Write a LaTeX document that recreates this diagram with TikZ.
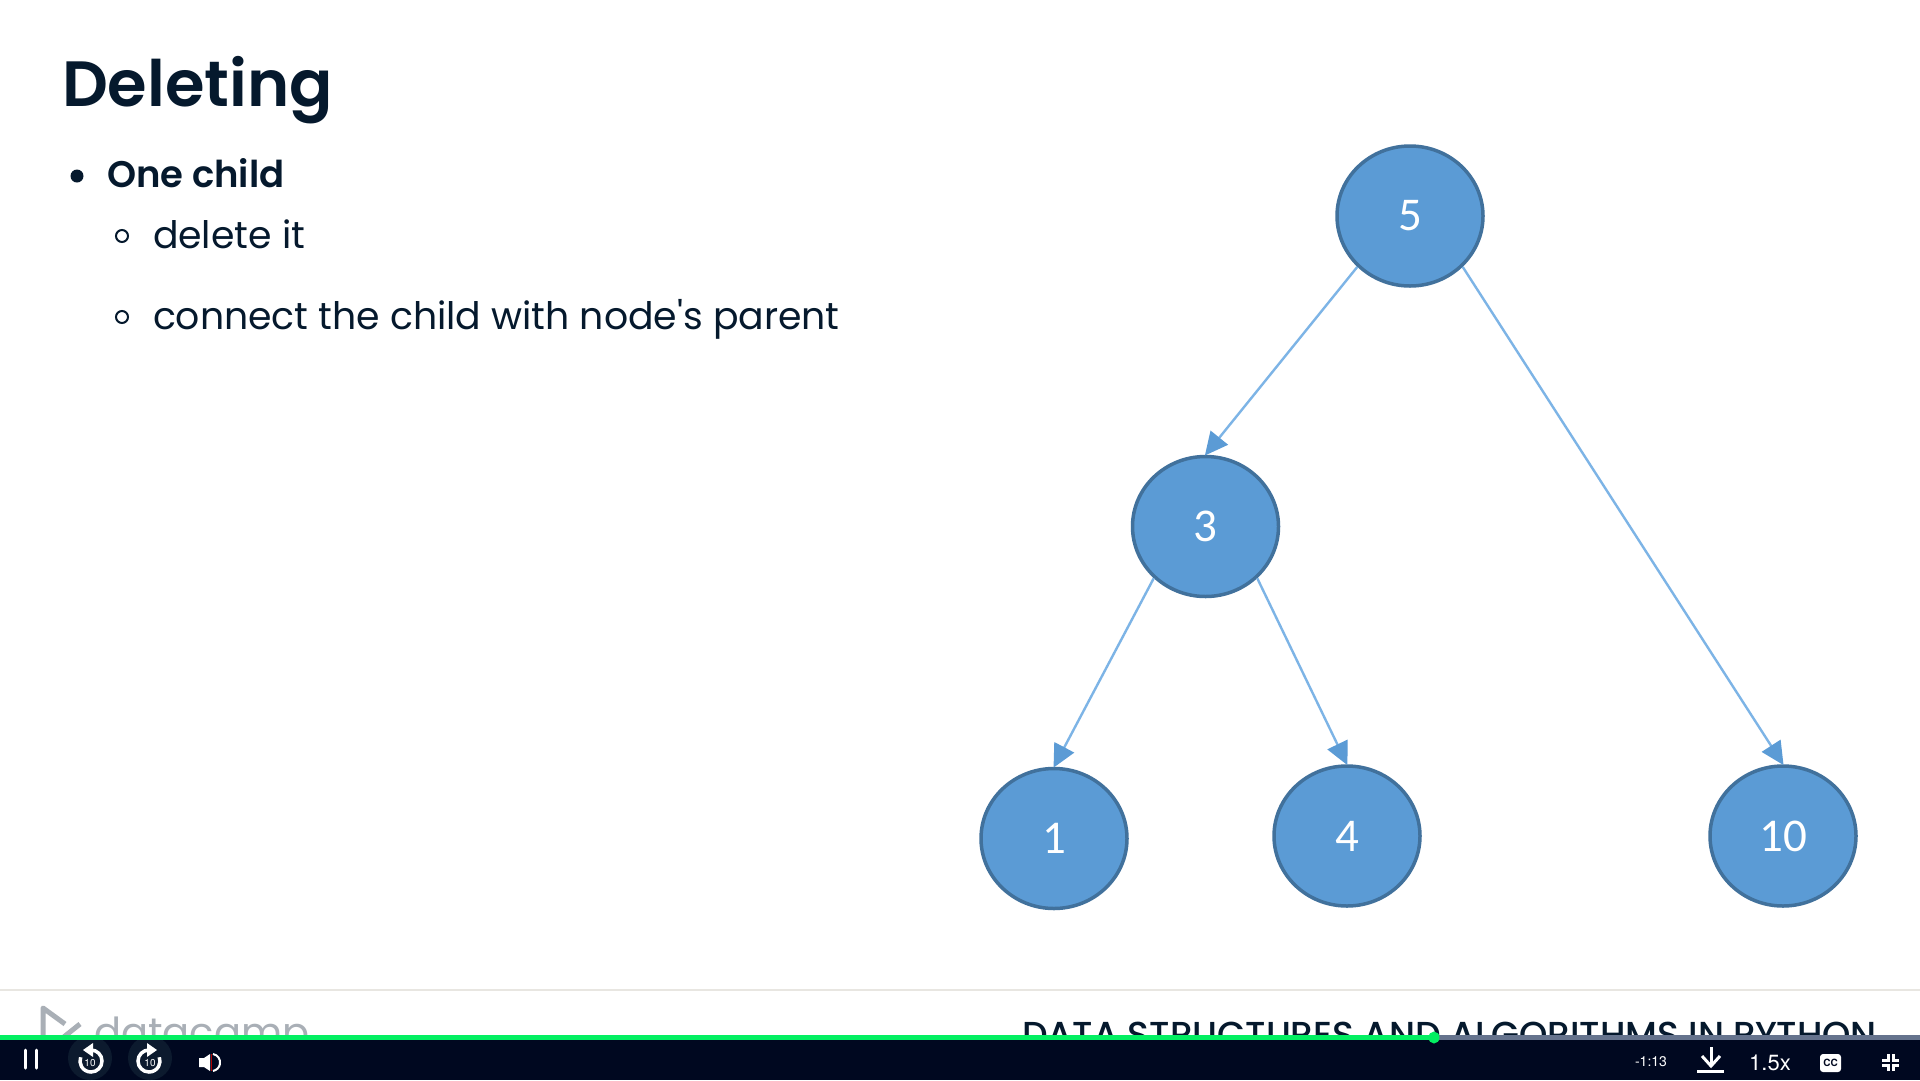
\documentclass[tikz,border=0pt]{standalone}
\usepackage{fontspec}
\setmainfont{Poppins}
\newfontfamily\pop{Poppins}
\newfontfamily\popm{Poppins Medium}
\newfontfamily\pops{Poppins SemiBold}
\newfontfamily\carl{Carlito}
\newfontfamily\heros{TeX Gyre Heros}
\usetikzlibrary{shapes.geometric,arrows.meta}
\definecolor{ink}{HTML}{05192D}
\definecolor{barbg}{HTML}{000820}
\definecolor{go}{HTML}{03EF62}
\definecolor{track}{HTML}{65738D}
\definecolor{sep}{HTML}{E8E6E1}
\definecolor{logo}{HTML}{A9AFB6}
\definecolor{nfill}{HTML}{5B9BD5}
\definecolor{nedge}{HTML}{41719C}
\definecolor{edge}{HTML}{7DB4E6}
\definecolor{btn}{HTML}{0C1A2E}
\tikzset{
  x=1pt,y=-1pt,
  tree/.style={ellipse,draw=nedge,line width=3.5pt,fill=nfill,minimum width=146pt,minimum height=140pt,inner sep=0pt,text=white,font=\carl\fontsize{47}{47}\selectfont},
  link/.style={edge,line width=2.4pt,-{Triangle[length=23pt,width=22pt,color=nfill]},shorten >=-1pt},
  txt/.style={text=ink,anchor=base west,inner sep=0pt,outer sep=0pt},
  ui/.style={text=white,inner sep=0pt,font=\heros\fontsize{#1}{#1}\selectfont},
  ui/.default=20,
  icon/.style={white,line width=3.5pt}
}
\begin{document}
\begin{tikzpicture}
\useasboundingbox (0,0) rectangle (1920,1080);
\fill[white] (0,0) rectangle (1920,1080);
% text
\node[txt,font=\pops\fontsize{64}{64}\selectfont] (title) at (62,106) {Deleting};
\fill[ink] (77,176) circle (6.5);
\node[txt,font=\pops\fontsize{37}{37}\selectfont] (b1) at (107,187) {One child};
\draw[ink,line width=2pt] (122,236) circle (6);
\node[txt,font=\pop\fontsize{37.8}{38}\selectfont] (b2) at (153,248) {delete it};
\draw[ink,line width=2pt] (122,317) circle (6);
\node[txt,font=\pop\fontsize{37.8}{38}\selectfont] (b3) at (153,329) {connect the child with node's parent};
% tree
\node[tree] (n5) at (1410,216) {5};
\node[tree] (n3) at (1205.5,526.5) {3};
\node[tree] (n1) at (1054,838.5) {1};
\node[tree] (n4) at (1347,836) {4};
\node[tree] (n10) at (1783,836) {10};
\draw[link] (n5.224) -- (n3.north);
\draw[link] (n5.-44) -- (n10.north);
\draw[link] (n3.-135) -- (n1.north);
\draw[link] (n3.-45) -- (n4.north);
% footer
\draw[sep,line width=2pt] (0,990) -- (1920,990);
\draw[logo,line width=5pt,line join=round] (43,1040) -- (43,1008) -- (65,1024);
\draw[logo,line width=5pt] (60,1040) -- (80,1024);
\node[text=logo,anchor=base west,inner sep=0pt,font=\fontsize{40}{40}\selectfont] (dc) at (94,1046) {datacamp};
\node[text=ink,anchor=base west,inner sep=0pt,font=\popm\fontsize{36.1}{37}\selectfont] (ds) at (1022,1047) {DATA STRUCTURES AND ALGORITHMS IN PYTHON};
% player
\fill[barbg] (0,1040) rectangle (1920,1080);
\fill[btn] (90,1058) circle (22);
\fill[btn] (150,1058) circle (22);
\fill[track] (0,1035) rectangle (1920,1040);
\fill[go] (0,1035) rectangle (1434,1040);
\fill[go] (1434,1037.5) ellipse (5.5 and 6);
\draw[white,line width=3pt,line cap=round] (25,1050) -- (25,1068);
\draw[white,line width=3pt,line cap=round] (36,1050) -- (36,1068);
\draw[icon] (91,1050) arc (-90:200:11);
\fill[white] (93,1043) -- (83,1050) -- (93,1057) -- cycle;
\node[ui=10] (r1) at (90,1063) {10};
\draw[icon] (149,1050) arc (270:-20:11);
\fill[white] (147,1043) -- (157,1050) -- (147,1057) -- cycle;
\node[ui=10] (r2) at (150,1063) {10};
\fill[white] (199,1058) -- (204,1058) -- (210,1054) -- (210,1071) -- (204,1067) -- (199,1067) -- cycle;
\draw[red!70!black,line width=1.5pt] (211.5,1054) -- (211.5,1071);
\draw[white,line width=2pt] (213,1054) arc (-80:80:8.6);
\node[ui=14] (t) at (1651,1062) {-1:13};
\draw[white,line width=3pt] (1711,1047) -- (1711,1065);
\draw[white,line width=3pt] (1702,1056) -- (1711,1066) -- (1720,1056);
\fill[white] (1697,1070) rectangle (1724,1073);
\node[ui=22] (sp) at (1770,1062.5) {1.5x};
\fill[white,rounded corners=3pt] (1820,1054) rectangle (1841,1072);
\node[ui=10,text=barbg] (cc) at (1830.5,1063) {\bfseries CC};
\draw[white,line width=3pt] (1888,1054) -- (1888,1060) -- (1882,1060);
\draw[white,line width=3pt] (1893,1054) -- (1893,1060) -- (1899,1060);
\draw[white,line width=3pt] (1888,1071) -- (1888,1065) -- (1882,1065);
\draw[white,line width=3pt] (1893,1071) -- (1893,1065) -- (1899,1065);
\end{tikzpicture}
\end{document}
